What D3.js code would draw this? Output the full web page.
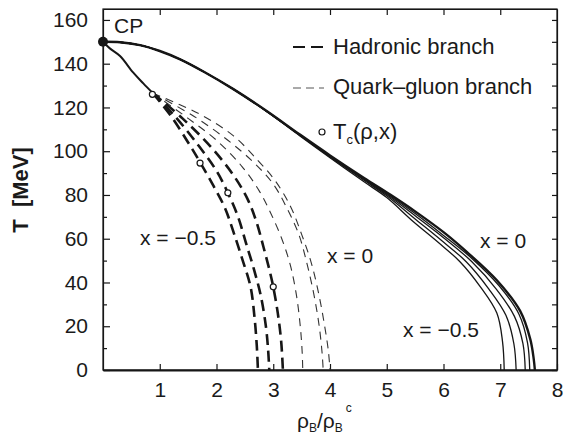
<!DOCTYPE html>
<html><head><meta charset="utf-8">
<script src="https://cdn.jsdelivr.net/npm/d3@7"></script>
<style>
body{margin:0;background:#fff}
svg{display:block;background:#fff}
text{font-family:"Liberation Sans",Arial,Helvetica,sans-serif;fill:#1a1a1a}
</style>
</head><body>
<svg id="chart" width="563" height="434"></svg>
<script>
// ---------- data ----------
const xTicks = [1, 2, 3, 4, 5, 6, 7, 8];
const yTicks = [0, 20, 40, 60, 80, 100, 120, 140, 160];
const yMinor = [10, 30, 50, 70, 90, 110, 130, 150];
const criticalPoint = [0, 150];

// lower (first-order) line from CP down to the branching region
const branchStem = [[0,150],[0.12,147],[0.3,143.5],[0.53,136],[0.71,131],[0.88,126.5]];

// hadronic branch (thick dashed)
const hadronic1 = [[0.88,126.5],[1.2,116],[1.5,104],[1.71,95],[1.95,84],[2.15,74],[2.3,63],[2.45,51],[2.6,38],[2.67,24],[2.71,11],[2.73,0]];
const hadronic2 = [[0.88,126.5],[1.3,115],[1.7,102],[2.0,91],[2.2,81],[2.38,70],[2.52,58],[2.66,46],[2.78,34],[2.87,20],[2.91,9],[2.93,0]];
const hadronic3 = [[0.88,126.5],[1.4,115],[1.9,102],[2.3,89],[2.55,78],[2.7,68],[2.83,56],[2.94,45],[3.0,38],[3.08,26],[3.14,13],[3.17,0]];

// quark-gluon branch (thin dashed)
const quark1 = [[0.88,126.5],[1.5,115],[2.0,105],[2.45,93],[2.75,82],[2.95,72],[3.15,60],[3.3,48],[3.41,34],[3.48,19],[3.51,8],[3.52,0]];
const quark2 = [[0.88,126.5],[1.6,116],[2.2,105],[2.65,95],[3.0,85],[3.24,74],[3.45,62],[3.6,48],[3.72,34],[3.81,20],[3.86,8],[3.88,0]];
const quark3 = [[0.88,126.5],[1.7,117],[2.3,107],[2.72,96],[3.02,87],[3.3,75],[3.5,62],[3.67,49],[3.8,35],[3.9,21],[3.97,9],[4.0,0]];

// solid phase boundaries, x = -0.5 ... x = 0
const boundary1 = [[0,150],[0.3,149.8],[0.65,148.5],[1.0,145.8],[1.36,142],[1.8,136],[2.29,128.5],[2.89,118],[3.47,107],[4.0,97],[4.6,86],[5.0,78.8],[5.46,68],[5.9,58.5],[6.29,49.5],[6.65,38],[6.94,26],[7.04,13],[7.07,0]];
const boundary2 = [[0,150],[0.3,149.8],[0.65,148.5],[1.0,145.8],[1.36,142],[1.8,136],[2.29,128.5],[2.89,118.1],[3.47,107.2],[4.0,97.4],[4.6,86.7],[5.0,79.6],[5.5,69],[5.95,59.5],[6.4,49.5],[6.8,37],[7.1,25],[7.24,12],[7.28,0]];
const boundary3 = [[0,150],[0.3,149.8],[0.65,148.5],[1.0,145.8],[1.36,142],[1.8,136],[2.29,128.5],[2.89,118.2],[3.47,107.4],[4.0,97.7],[4.6,87.2],[5.0,80.2],[5.5,70.5],[6.0,60.5],[6.5,49.5],[6.93,37],[7.25,24.5],[7.4,12],[7.44,0]];
const boundary4 = [[0,150],[0.3,149.8],[0.65,148.5],[1.0,145.8],[1.36,142],[1.8,136],[2.29,128.5],[2.89,118.2],[3.47,107.5],[4.0,97.9],[4.6,87.5],[5.0,80.7],[5.5,71.5],[6.0,61.5],[6.5,51],[6.98,38.5],[7.33,25.5],[7.48,12.5],[7.52,0]];
const boundary5 = [[0,150],[0.3,149.8],[0.65,148.5],[1.0,145.8],[1.36,142],[1.8,136],[2.29,128.5],[2.89,118.3],[3.47,107.6],[4.0,98.1],[4.6,87.8],[5.06,80.2],[5.5,72.5],[6.0,63],[6.41,54],[6.94,41],[7.35,27],[7.53,14],[7.59,5],[7.61,0]];

// T_c(rho, x) markers
const tcPoints = [[0.87,126],[1.71,94.6],[2.2,81],[3.0,38]];

// ---------- drawing ----------
const svg = d3.select("#chart");
const M = {left:103, right:557, top:9, bottom:370};
const x = d3.scaleLinear().domain([0, 8]).range([M.left, M.right]);
const y = d3.scaleLinear().domain([0, 165]).range([M.bottom, M.top]);
const ink = "#161616";

const line = d3.line().x(d => x(d[0])).y(d => y(d[1])).curve(d3.curveCatmullRom.alpha(0.5));

// frame
svg.append("rect").attr("x", M.left).attr("y", M.top)
  .attr("width", M.right - M.left).attr("height", M.bottom - M.top)
  .attr("fill", "none").attr("stroke", ink).attr("stroke-width", 1.2);

// axes
const fontTick = "21px";
const gB = svg.append("g").attr("transform", `translate(0,${M.bottom})`)
  .call(d3.axisBottom(x).tickValues(xTicks).tickSizeInner(-6).tickSizeOuter(0).tickPadding(12));
gB.select(".domain").attr("stroke", ink).attr("stroke-width", 2);
gB.selectAll("text").style("font-size", fontTick);

const gT = svg.append("g").attr("transform", `translate(0,${M.top})`)
  .call(d3.axisTop(x).tickValues(xTicks.slice(0, 7)).tickSizeInner(-6).tickSizeOuter(0).tickFormat(""));
gT.select(".domain").attr("stroke", ink).attr("stroke-width", 1.2);

const gL = svg.append("g").attr("transform", `translate(${M.left},0)`)
  .call(d3.axisLeft(y).tickValues(yTicks).tickSizeInner(-7).tickSizeOuter(0).tickPadding(15));
gL.select(".domain").attr("stroke", ink).attr("stroke-width", 1.2);
gL.selectAll("text").style("font-size", fontTick);
svg.append("g").attr("transform", `translate(${M.left},0)`)
  .call(d3.axisLeft(y).tickValues(yMinor).tickSizeInner(-4).tickSizeOuter(0).tickFormat(""))
  .select(".domain").remove();

const gR = svg.append("g").attr("transform", `translate(${M.right},0)`)
  .call(d3.axisRight(y).tickValues(yTicks.concat(yMinor)).tickSizeInner(-5).tickSizeOuter(0).tickFormat(""));
gR.select(".domain").attr("stroke", ink).attr("stroke-width", 1.2);
svg.selectAll(".tick line").attr("stroke", ink).attr("stroke-width", 1.2);
svg.selectAll(".tick text").attr("fill", "#1a1a1a");

// solid boundaries
[boundary1, boundary2, boundary3, boundary4].forEach(d => {
  svg.append("path").attr("d", line(d)).attr("fill", "none").attr("stroke", ink).attr("stroke-width", 1.3);
});
svg.append("path").attr("d", line(boundary5)).attr("fill", "none").attr("stroke", ink).attr("stroke-width", 2.4);

// branch stem
svg.append("path").attr("d", line(branchStem)).attr("fill", "none").attr("stroke", ink).attr("stroke-width", 2);

// quark-gluon thin dashed
[quark1, quark2, quark3].forEach(d => {
  svg.append("path").attr("d", line(d)).attr("fill", "none").attr("stroke", "#333")
    .attr("stroke-width", 1.1).attr("stroke-dasharray", "8,6");
});
// hadronic thick dashed
[hadronic1, hadronic2, hadronic3].forEach(d => {
  svg.append("path").attr("d", line(d)).attr("fill", "none").attr("stroke", ink)
    .attr("stroke-width", 2.6).attr("stroke-dasharray", "11,6");
});

// markers
svg.selectAll(".tc").data(tcPoints).enter().append("circle")
  .attr("cx", d => x(d[0])).attr("cy", d => y(d[1])).attr("r", 3)
  .attr("fill", "#fff").attr("stroke", ink).attr("stroke-width", 1.2);
svg.append("circle").attr("cx", x(criticalPoint[0])).attr("cy", y(criticalPoint[1]))
  .attr("r", 5).attr("fill", ink);

// texts
svg.append("text").attr("x", 114).attr("y", 33).style("font-size", "21px").text("CP");

// legend
svg.append("line").attr("x1", 293).attr("x2", 324).attr("y1", 47).attr("y2", 47)
  .attr("stroke", ink).attr("stroke-width", 2.2).attr("stroke-dasharray", "12,6");
svg.append("text").attr("x", 333).attr("y", 54).style("font-size", "22px").text("Hadronic branch");
svg.append("line").attr("x1", 293).attr("x2", 324).attr("y1", 88).attr("y2", 88)
  .attr("stroke", "#555").attr("stroke-width", 1).attr("stroke-dasharray", "8,5");
svg.append("text").attr("x", 333).attr("y", 94).style("font-size", "22px").text("Quark\u2013gluon branch");
svg.append("circle").attr("cx", 322).attr("cy", 132).attr("r", 3)
  .attr("fill", "#fff").attr("stroke", ink).attr("stroke-width", 1.2);
const tc = svg.append("text").attr("x", 333).attr("y", 139).style("font-size", "22px");
tc.append("tspan").text("T");
tc.append("tspan").attr("dy", 5).style("font-size", "13px").text("c");
tc.append("tspan").attr("dy", -5).text("(\u03c1,x)");

// curve labels
svg.append("text").attr("x", 140).attr("y", 245).style("font-size", "21px").text("x = \u22120.5");
svg.append("text").attr("x", 327).attr("y", 263).style("font-size", "21px").text("x = 0");
svg.append("text").attr("x", 480).attr("y", 248).style("font-size", "21px").text("x = 0");
svg.append("text").attr("x", 403).attr("y", 337).style("font-size", "21px").text("x = \u22120.5");

// axis titles
svg.append("text").attr("transform", "translate(28,190) rotate(-90)")
  .attr("text-anchor", "middle").style("font-size", "22px").style("font-weight", "bold")
  .text("T\u00a0\u00a0[MeV]");
const xl = svg.append("text").attr("x", 297).attr("y", 428).style("font-size", "21px");
xl.append("tspan").text("\u03c1");
xl.append("tspan").attr("dy", 4).style("font-size", "12px").text("B");
xl.append("tspan").attr("dy", -4).text("/\u03c1");
xl.append("tspan").attr("dy", 4).style("font-size", "12px").text("B");
xl.append("tspan").attr("dy", -20).attr("dx", 3).style("font-size", "12px").text("c");
</script>
</body></html>
